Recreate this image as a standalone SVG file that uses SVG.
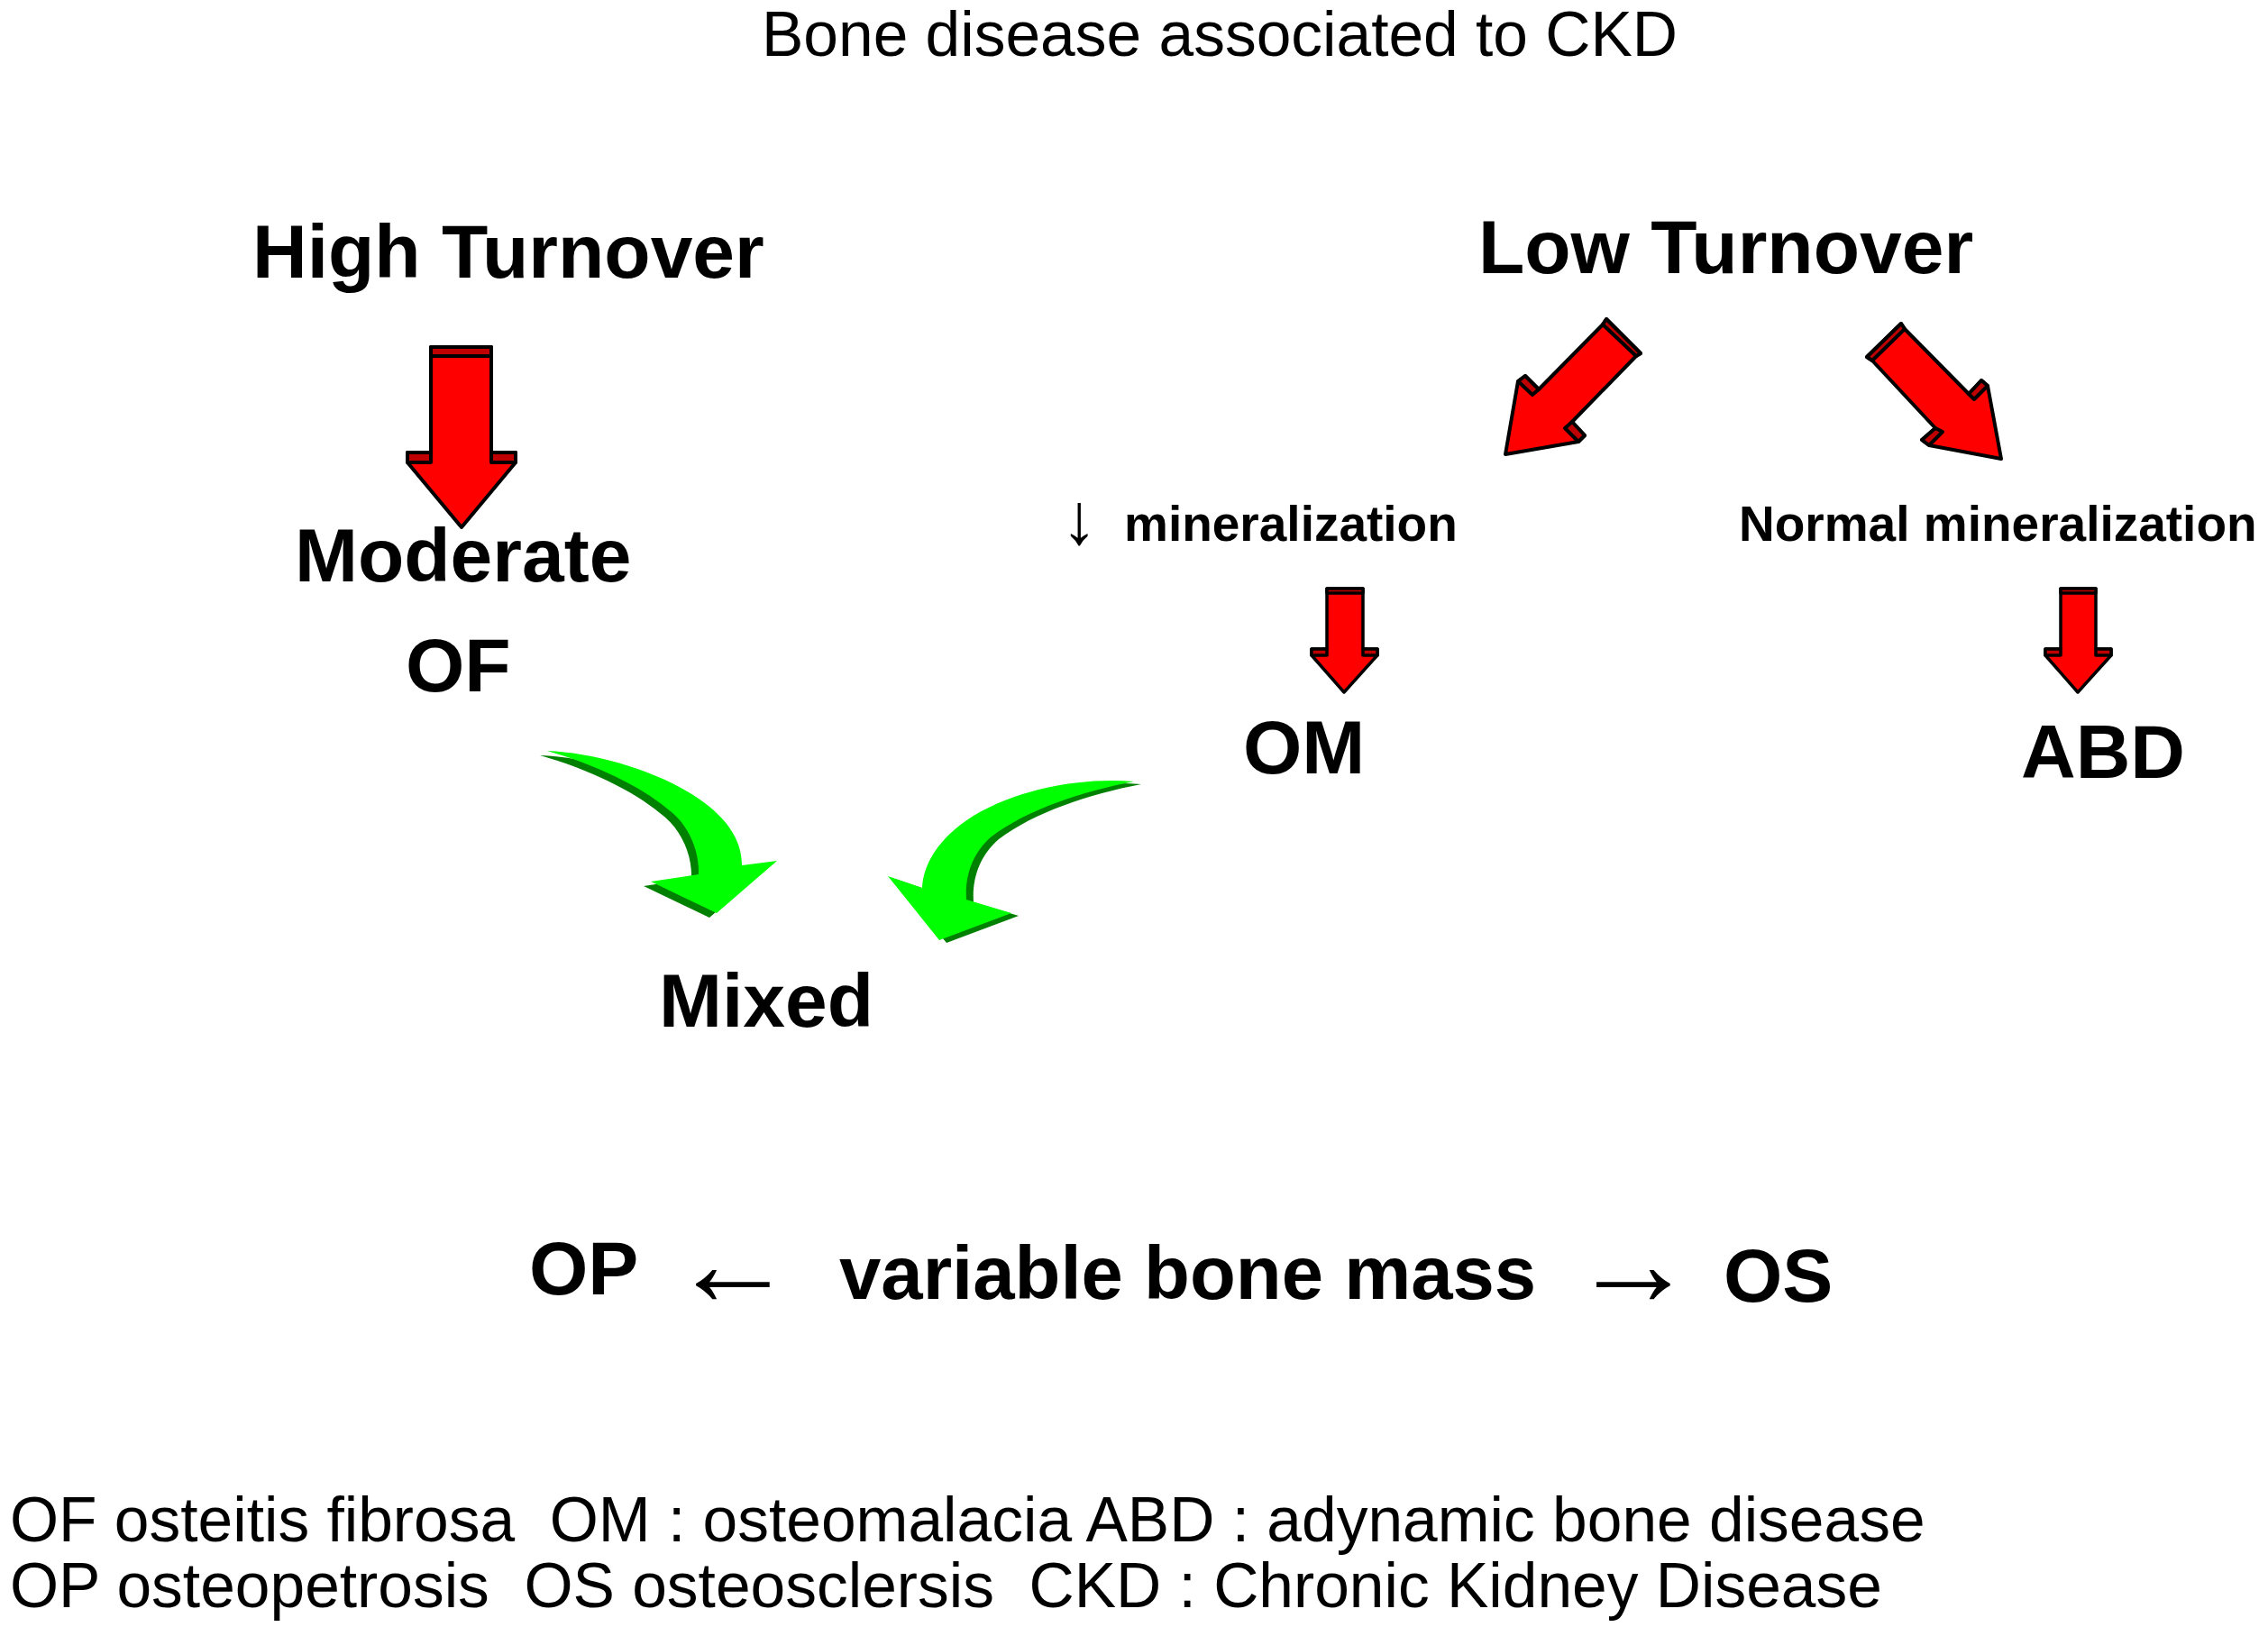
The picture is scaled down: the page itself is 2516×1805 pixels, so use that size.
<svg xmlns="http://www.w3.org/2000/svg" width="2516" height="1805" viewBox="0 0 2516 1805">
<style>
.t{font-family:"Liberation Sans",Arial,sans-serif;fill:#000}
.b{font-weight:bold}
.r{fill:#ff0000;stroke:#000;stroke-width:4;stroke-linejoin:round}
.d{fill:#c00000;stroke:#000;stroke-width:4;stroke-linejoin:round}
.rs{fill:#ff0000;stroke:#000;stroke-width:3.5;stroke-linejoin:round}
.ds{fill:#c00000;stroke:#000;stroke-width:3.5;stroke-linejoin:round}
.gl{fill:#00ff00}
.gd{fill:#008000}
</style>
<rect width="2516" height="1805" fill="#fff"/>
<text class="t" x="845" y="62" font-size="69.5">Bone disease associated to CKD</text>

<g id="high-turnover"><text class="t b" x="280" y="308" font-size="84">High Turnover</text></g>
<g id="low-turnover"><text class="t b" x="1640" y="303" font-size="84">Low Turnover</text></g>
<g id="moderate-of">
<text class="t b" x="327" y="645" font-size="84">Moderate</text>
<text class="t b" x="450" y="767" font-size="84">OF</text>
</g>
<g id="low-mineralization">
<text class="t" x="1177" y="603" font-size="80">↓</text>
<text class="t b" x="1247" y="600" font-size="55">mineralization</text>
</g>
<g id="normal-mineralization"><text class="t b" x="1929" y="600" font-size="55">Normal mineralization</text></g>
<g id="om"><text class="t b" x="1379" y="858" font-size="84">OM</text></g>
<g id="abd"><text class="t b" x="2242" y="863" font-size="84">ABD</text></g>
<g id="mixed"><text class="t b" x="731" y="1139" font-size="84">Mixed</text></g>
<g id="bone-mass">
<text class="t b" x="587" y="1436" font-size="84">OP</text>
<text class="t" x="744" y="1448" font-size="138">←</text>
<text class="t b" x="931" y="1441" font-size="83.3">variable bone mass</text>
<text class="t" x="1743" y="1448" font-size="138">→</text>
<text class="t b" x="1912" y="1444" font-size="84">OS</text>
</g>
<g id="legend">
<text class="t" x="11" y="1710" font-size="69.5" xml:space="preserve">OF osteitis fibrosa  OM : osteomalacia ABD : adynamic bone disease</text>
<text class="t" x="11" y="1783" font-size="69.5" xml:space="preserve">OP osteopetrosis  OS osteosclersis  CKD : Chronic Kidney Disease</text>
</g>

<g id="connectors">
<g id="arrow-high-moderate">
<path class="r" d="M478,385 H545 V502 H572 V513 L512,585 L452,513 V502 H478 Z"/>
<rect class="d" x="478" y="385" width="67" height="10"/>
<rect class="d" x="452" y="502" width="26" height="11"/>
<rect class="d" x="545" y="502" width="27" height="11"/>
</g>
<g id="arrow-low-om">
<path class="r" d="M1782,354 L1820,392 L1815,395 L1744,468 L1758,483 L1751,490 L1670,504 L1684,423 L1692,417 L1707,432 L1778,360 Z"/>
<polygon class="d" points="1782,354 1820,392 1815,395 1778,360"/>
<polygon class="d" points="1692,417 1707,432 1700,438 1684,423"/>
<polygon class="d" points="1744,468 1758,483 1751,490 1736,475"/>
</g>
<g id="arrow-low-normal">
<path class="r" d="M2109,359 L2113,365 L2184,437 L2198,422 L2205,428 L2220,509 L2140,494 L2132,488 L2147,475 L2077,400 L2071,396 Z"/>
<polygon class="d" points="2109,359 2113,365 2077,400 2071,396"/>
<polygon class="d" points="2184,437 2198,422 2205,428 2190,443"/>
<polygon class="d" points="2132,488 2147,475 2155,479 2140,494"/>
</g>
<g id="arrow-min-om">
<path class="rs" d="M1472,653 H1512 V720 H1528 V727 L1491,768 L1455,727 V720 H1472 Z"/>
<rect class="ds" x="1472" y="653" width="40" height="5"/>
<rect class="ds" x="1455" y="720" width="17" height="7"/>
<rect class="ds" x="1512" y="720" width="16" height="7"/>
</g>
<g id="arrow-normal-abd">
<path class="rs" d="M2286,653 H2325 V720 H2342 V727 L2305,768 L2269,727 V720 H2286 Z"/>
<rect class="ds" x="2286" y="653" width="39" height="5"/>
<rect class="ds" x="2269" y="720" width="17" height="7"/>
<rect class="ds" x="2325" y="720" width="17" height="7"/>
</g>
<g id="arrow-of-mixed">
<path class="gd" transform="translate(-8,5)" d="M607,833 C660,835 730,855 775,886 C810,910 823,935 823,960 L862,955 L795,1013 L722,978 L775,970 C776,945 765,915 740,897 C710,872 660,848 607,833 Z"/>
<path class="gl" d="M607,833 C660,835 730,855 775,886 C810,910 823,935 823,960 L862,955 L795,1013 L722,978 L775,970 C776,945 765,915 740,897 C710,872 660,848 607,833 Z"/>
</g>
<g id="arrow-om-mixed">
<path class="gd" transform="translate(8,3)" d="M1258,867 C1200,862 1130,875 1080,905 C1040,930 1024,960 1023,985 L985,972 L1042,1043 L1122,1013 L1072,998 C1070,970 1080,945 1100,928 C1140,898 1200,878 1258,867 Z"/>
<path class="gl" d="M1258,867 C1200,862 1130,875 1080,905 C1040,930 1024,960 1023,985 L985,972 L1042,1043 L1122,1013 L1072,998 C1070,970 1080,945 1100,928 C1140,898 1200,878 1258,867 Z"/>
</g>
</g>
</svg>
